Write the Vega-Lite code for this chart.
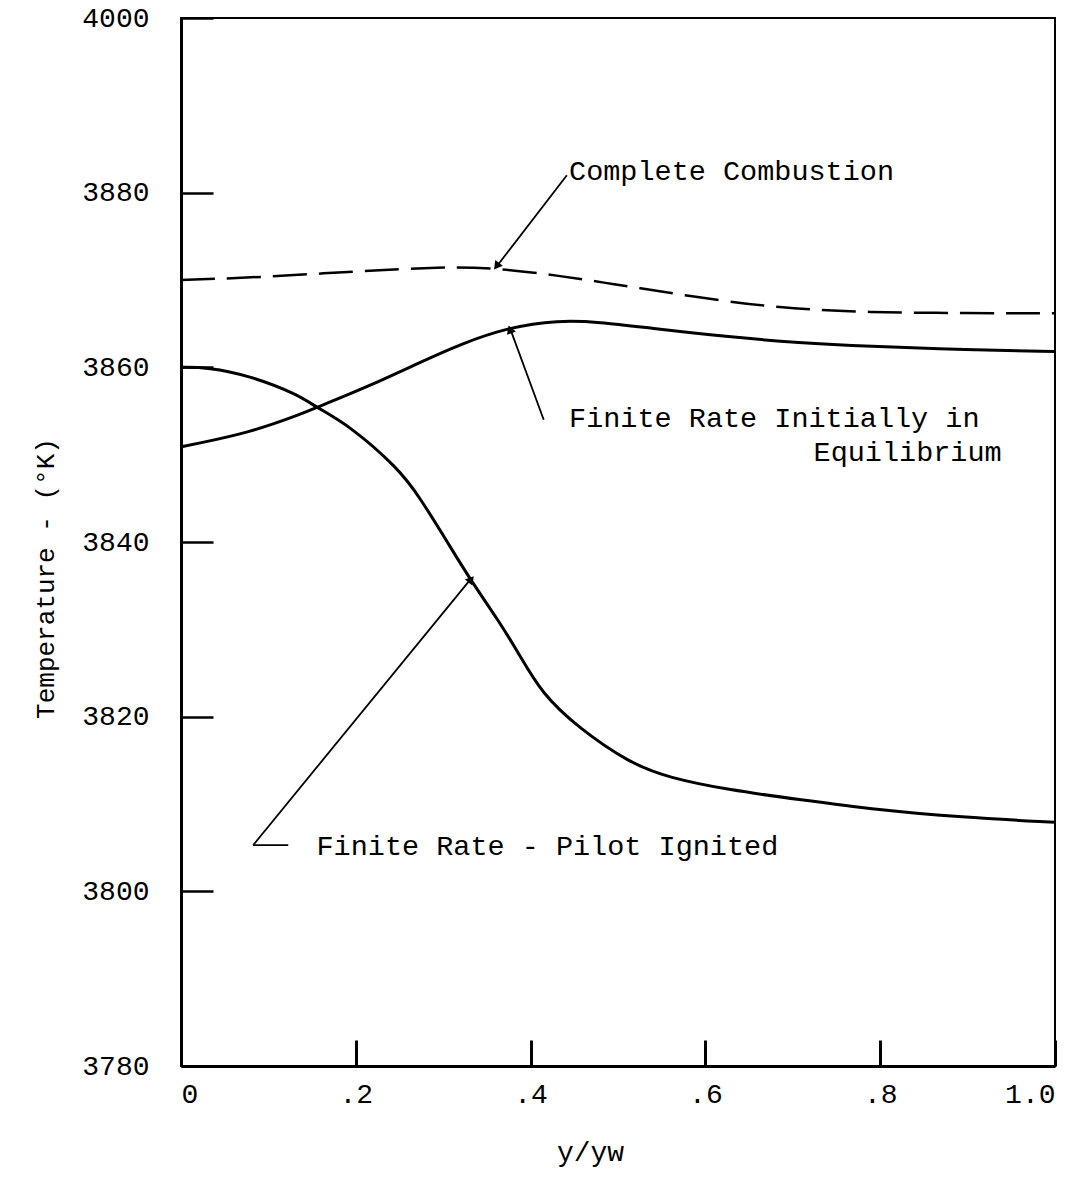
{
  "$schema": "https://vega.github.io/schema/vega-lite/v6.json",
  "width": 874,
  "height": 1048,
  "autosize": {"type": "none"},
  "padding": {"left": 181, "top": 18, "right": 22, "bottom": 120},
  "background": "white",
  "config": {
    "view": {"stroke": "black", "strokeWidth": 2},
    "font": "Liberation Mono",
    "axis": {
      "grid": false,
      "domainColor": "black",
      "domainWidth": 3,
      "tickColor": "black",
      "labelColor": "black",
      "titleColor": "black",
      "labelFont": "Liberation Mono",
      "titleFont": "Liberation Mono",
      "labelFontSize": 28,
      "titleFontSize": 26,
      "titleFontWeight": "normal"
    }
  },
  "datasets": {
    "curves": [
      {"series": "Complete Combustion", "x": 0.0, "T": 3870.0},
      {"series": "Complete Combustion", "x": 0.09, "T": 3870.3},
      {"series": "Complete Combustion", "x": 0.2, "T": 3871.0},
      {"series": "Complete Combustion", "x": 0.3, "T": 3871.5},
      {"series": "Complete Combustion", "x": 0.356, "T": 3871.4},
      {"series": "Complete Combustion", "x": 0.433, "T": 3870.5},
      {"series": "Complete Combustion", "x": 0.49, "T": 3869.6},
      {"series": "Complete Combustion", "x": 0.51, "T": 3869.3},
      {"series": "Complete Combustion", "x": 0.624, "T": 3867.5},
      {"series": "Complete Combustion", "x": 0.7, "T": 3866.7},
      {"series": "Complete Combustion", "x": 0.784, "T": 3866.3},
      {"series": "Complete Combustion", "x": 0.899, "T": 3866.2},
      {"series": "Complete Combustion", "x": 1.0, "T": 3866.2},

      {"series": "Finite Rate Initially in Equilibrium", "x": 0.0, "T": 3850.9},
      {"series": "Finite Rate Initially in Equilibrium", "x": 0.02, "T": 3851.3},
      {"series": "Finite Rate Initially in Equilibrium", "x": 0.077, "T": 3852.5},
      {"series": "Finite Rate Initially in Equilibrium", "x": 0.134, "T": 3854.5},
      {"series": "Finite Rate Initially in Equilibrium", "x": 0.155, "T": 3855.4},
      {"series": "Finite Rate Initially in Equilibrium", "x": 0.214, "T": 3857.8},
      {"series": "Finite Rate Initially in Equilibrium", "x": 0.272, "T": 3860.5},
      {"series": "Finite Rate Initially in Equilibrium", "x": 0.318, "T": 3862.6},
      {"series": "Finite Rate Initially in Equilibrium", "x": 0.375, "T": 3864.6},
      {"series": "Finite Rate Initially in Equilibrium", "x": 0.432, "T": 3865.4},
      {"series": "Finite Rate Initially in Equilibrium", "x": 0.478, "T": 3865.2},
      {"series": "Finite Rate Initially in Equilibrium", "x": 0.536, "T": 3864.5},
      {"series": "Finite Rate Initially in Equilibrium", "x": 0.624, "T": 3863.5},
      {"series": "Finite Rate Initially in Equilibrium", "x": 0.708, "T": 3862.8},
      {"series": "Finite Rate Initially in Equilibrium", "x": 0.784, "T": 3862.4},
      {"series": "Finite Rate Initially in Equilibrium", "x": 0.899, "T": 3862.0},
      {"series": "Finite Rate Initially in Equilibrium", "x": 1.0, "T": 3861.8},

      {"series": "Finite Rate - Pilot Ignited", "x": 0.0, "T": 3860.0},
      {"series": "Finite Rate - Pilot Ignited", "x": 0.031, "T": 3860.0},
      {"series": "Finite Rate - Pilot Ignited", "x": 0.077, "T": 3859.1},
      {"series": "Finite Rate - Pilot Ignited", "x": 0.134, "T": 3856.9},
      {"series": "Finite Rate - Pilot Ignited", "x": 0.155, "T": 3855.4},
      {"series": "Finite Rate - Pilot Ignited", "x": 0.192, "T": 3853.4},
      {"series": "Finite Rate - Pilot Ignited", "x": 0.249, "T": 3848.4},
      {"series": "Finite Rate - Pilot Ignited", "x": 0.272, "T": 3845.3},
      {"series": "Finite Rate - Pilot Ignited", "x": 0.306, "T": 3839.8},
      {"series": "Finite Rate - Pilot Ignited", "x": 0.329, "T": 3836.0},
      {"series": "Finite Rate - Pilot Ignited", "x": 0.364, "T": 3830.9},
      {"series": "Finite Rate - Pilot Ignited", "x": 0.386, "T": 3827.3},
      {"series": "Finite Rate - Pilot Ignited", "x": 0.413, "T": 3822.6},
      {"series": "Finite Rate - Pilot Ignited", "x": 0.455, "T": 3818.7},
      {"series": "Finite Rate - Pilot Ignited", "x": 0.513, "T": 3814.7},
      {"series": "Finite Rate - Pilot Ignited", "x": 0.558, "T": 3813.0},
      {"series": "Finite Rate - Pilot Ignited", "x": 0.627, "T": 3811.6},
      {"series": "Finite Rate - Pilot Ignited", "x": 0.708, "T": 3810.5},
      {"series": "Finite Rate - Pilot Ignited", "x": 0.799, "T": 3809.3},
      {"series": "Finite Rate - Pilot Ignited", "x": 0.891, "T": 3808.5},
      {"series": "Finite Rate - Pilot Ignited", "x": 1.0, "T": 3807.9}
    ],
    "leaders": [
      {"x": 0.4415, "T": 3882.0, "x2": 0.360, "T2": 3871.4},
      {"x": 0.415, "T": 3854.0, "x2": 0.376, "T2": 3864.6},
      {"x": 0.0826, "T": 3805.3, "x2": 0.3326, "T2": 3835.9},
      {"x": 0.0826, "T": 3805.3, "x2": 0.1227, "T2": 3805.3}
    ],
    "arrowheads": [
      {"x": 0.362, "T": 3871.7, "angle": 217},
      {"x": 0.377, "T": 3864.2, "angle": 340},
      {"x": 0.331, "T": 3835.6, "angle": 39}
    ],
    "labels": [
      {"x": 0.444, "T": 3882.5, "text": "Complete Combustion", "align": "left"},
      {"x": 0.444, "T": 3854.2, "text": "Finite Rate Initially in", "align": "left"},
      {"x": 0.939, "T": 3850.3, "text": "Equilibrium", "align": "right"},
      {"x": 0.155, "T": 3805.2, "text": "Finite Rate - Pilot Ignited", "align": "left"}
    ]
  },
  "encoding": {
    "x": {
      "field": "x",
      "type": "quantitative",
      "scale": {"domain": [0, 1], "nice": false, "zero": false},
      "axis": {
        "values": [0, 0.2, 0.4, 0.6, 0.8, 1],
        "labelExpr": "datum.value == 0 ? '0' : datum.value == 1 ? '1.0' : replace(format(datum.value, '.1f'), '0.', '.')",
        "tickSize": -26,
        "tickWidth": 3,
        "labelPadding": 40,
        "title": "y/yw",
        "titleFontSize": 28,
        "titleX": 409,
        "titleY": 86,
        "titleBaseline": "middle"
      }
    },
    "y": {
      "field": "T",
      "type": "quantitative",
      "scale": {"domain": [3780, 3900], "nice": false, "zero": false},
      "axis": {
        "values": [3780, 3800, 3820, 3840, 3860, 3880, 3900],
        "labelExpr": "datum.value == 3900 ? '4000' : format(datum.value, 'd')",
        "tickSize": -32,
        "tickWidth": 2.5,
        "labelPadding": 64,
        "title": "Temperature - (°K)",
        "titleX": -136,
        "titleY": 560,
        "titleBaseline": "middle"
      }
    }
  },
  "layer": [
    {
      "data": {"name": "curves"},
      "transform": [{"filter": "datum.series == 'Complete Combustion'"}],
      "mark": {"type": "line", "color": "black", "strokeWidth": 2.5, "strokeDash": [34, 12], "interpolate": "basis"},
      "encoding": {"detail": {"field": "series"}}
    },
    {
      "data": {"name": "curves"},
      "transform": [{"filter": "datum.series != 'Complete Combustion'"}],
      "mark": {"type": "line", "color": "black", "strokeWidth": 3, "interpolate": "basis"},
      "encoding": {"detail": {"field": "series"}}
    },
    {
      "data": {"name": "leaders"},
      "mark": {"type": "rule", "color": "black", "strokeWidth": 1.8},
      "encoding": {
        "x2": {"field": "x2"},
        "y2": {"field": "T2"}
      }
    },
    {
      "data": {"name": "arrowheads"},
      "mark": {"type": "point", "shape": "triangle", "filled": true, "color": "black", "size": 90, "opacity": 1},
      "encoding": {
        "angle": {"field": "angle", "type": "quantitative", "scale": null}
      }
    },
    {
      "data": {"name": "labels"},
      "transform": [{"filter": "datum.align == 'left'"}],
      "mark": {"type": "text", "font": "Liberation Mono", "fontSize": 28.5, "color": "black", "baseline": "middle", "align": "left"},
      "encoding": {"text": {"field": "text"}}
    },
    {
      "data": {"name": "labels"},
      "transform": [{"filter": "datum.align == 'right'"}],
      "mark": {"type": "text", "font": "Liberation Mono", "fontSize": 28.5, "color": "black", "baseline": "middle", "align": "right"},
      "encoding": {"text": {"field": "text"}}
    }
  ]
}
